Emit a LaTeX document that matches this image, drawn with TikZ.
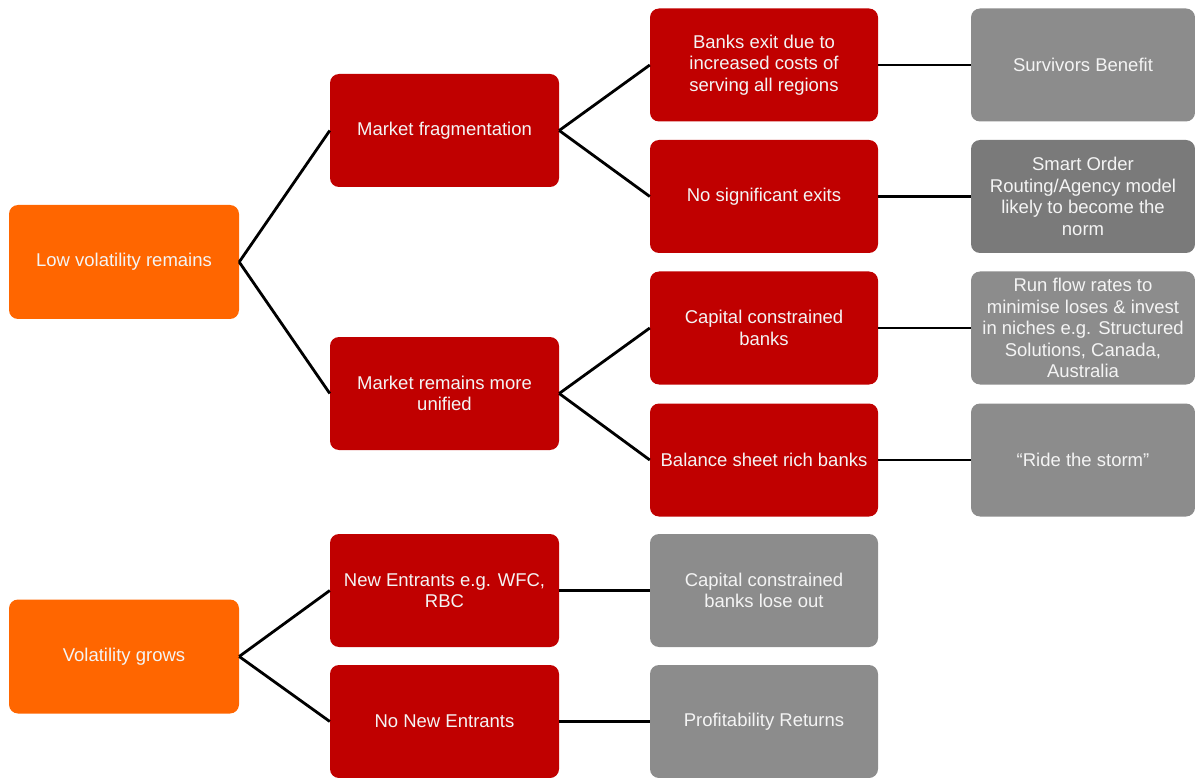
\documentclass[tikz,border=0pt]{standalone}
\usepackage{fontspec}
\setmainfont{Liberation Sans}
\definecolor{orangebox}{HTML}{FF6600}
\definecolor{redbox}{HTML}{C00000}
\definecolor{graybox}{HTML}{8C8C8C}
\definecolor{darkgraybox}{HTML}{7A7A7A}
\definecolor{boxtext}{HTML}{F4F4F4}
\begin{document}
\begin{tikzpicture}[x=1pt,y=-1pt,
  box/.style={rounded corners=9pt, draw=none, text=boxtext, align=center,
    inner sep=0pt, font=\fontsize{18.5}{21.5}\selectfont},
  obox/.style={box, fill=orangebox, minimum width=230pt, minimum height=114pt},
  rbox/.style={box, fill=redbox, minimum width=229pt, minimum height=113pt},
  gbox/.style={box, fill=graybox, minimum width=228pt, minimum height=113pt},
  g4box/.style={box, fill=graybox, minimum width=224pt, minimum height=113pt},
  dg4box/.style={box, fill=darkgraybox, minimum width=224pt, minimum height=113pt},
  link/.style={line width=2.8pt, black}]
\useasboundingbox (0,0) rectangle (1195,778);
% column 1
\node[obox] (low) at (124,262) {Low volatility remains};
\node[obox] (grow) at (124,656.5) {Volatility grows};
% column 2
\node[rbox] (frag) at (444.5,130.5) {Market fragmentation};
\node[rbox] (unif) at (444.5,393.5) {Market remains more\\unified};
\node[rbox] (newe) at (444.5,590.5) {New Entrants e.g. WFC,\\RBC};
\node[rbox] (nonew) at (444.5,721.5) {No New Entrants};
% column 3
\node[rbox, minimum width=228pt] (exit) at (764,65) {Banks exit due to\\increased costs of\\serving all regions};
\node[rbox, minimum width=228pt] (nosig) at (764,196.5) {No significant exits};
\node[rbox, minimum width=228pt] (capc) at (764,328) {Capital constrained\\banks};
\node[rbox, minimum width=228pt] (bsr) at (764,460) {Balance sheet rich banks};
\node[gbox] (lose) at (764,590.5) {Capital constrained\\banks lose out};
\node[gbox] (prof) at (764,721.5) {Profitability Returns};
% column 4
\node[g4box] (surv) at (1083,65) {Survivors Benefit};
\node[dg4box] (smart) at (1083,196.5) {Smart Order\\Routing/Agency model\\likely to become the\\norm};
\node[g4box] (run) at (1083,328) {Run flow rates to\\minimise loses \& invest\\in niches e.g. Structured\\Solutions, Canada,\\Australia};
\node[g4box] (ride) at (1083,460) {“Ride the storm”};
% connectors
\draw[link] (low.east) -- (frag.west);
\draw[link] (low.east) -- (unif.west);
\draw[link] (frag.east) -- (exit.west);
\draw[link] (frag.east) -- (nosig.west);
\draw[link] (unif.east) -- (capc.west);
\draw[link] (unif.east) -- (bsr.west);
\draw[link] (exit.east) -- (surv.west);
\draw[link] (nosig.east) -- (smart.west);
\draw[link] (capc.east) -- (run.west);
\draw[link] (bsr.east) -- (ride.west);
\draw[link] (grow.east) -- (newe.west);
\draw[link] (grow.east) -- (nonew.west);
\draw[link] (newe.east) -- (lose.west);
\draw[link] (nonew.east) -- (prof.west);
\end{tikzpicture}
\end{document}
